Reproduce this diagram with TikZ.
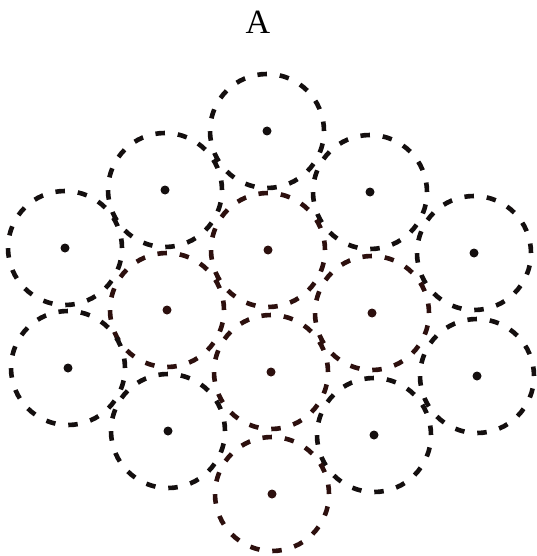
\documentclass[tikz,border=0pt]{standalone}
\usepackage{fontspec}
\setmainfont{Liberation Serif}
\usepackage{tikz}
\usetikzlibrary{positioning}
\definecolor{inkblack}{RGB}{20, 15, 15}
\definecolor{inkbrown}{RGB}{45, 16, 14}

\begin{document}
\begin{tikzpicture}[
        x=1pt, y=-1pt,
        ring/.style={draw=inkblack, circle, line width=4.6pt,
            dash pattern=on 9.5pt off 12.9pt,
            minimum size=114pt, inner sep=0pt},
        dot/.style={fill=inkblack, circle, minimum size=9pt, inner sep=0pt},
        lbl/.style={font=\fontsize{34}{40}\selectfont, inner sep=0pt}
    ]
    \useasboundingbox (0, 0) rectangle (536, 556);
    \node[lbl] (title) at (258, 22) {A};
    % outer ring of circles
    \node[ring] (c1) at (267, 131) {};
    \node[ring] (c2) at (165, 190) {};
    \node[ring] (c3) at (370, 192) {};
    \node[ring] (c4) at (65, 248) {};
    \node[ring, draw=inkbrown] (c5) at (268, 250) {};
    \node[ring] (c6) at (474, 253) {};
    \node[ring, draw=inkbrown] (c7) at (167, 310) {};
    \node[ring, draw=inkbrown] (c8) at (372, 313) {};
    \node[ring] (c9) at (68, 368) {};
    \node[ring, draw=inkbrown] (c10) at (271, 372) {};
    \node[ring] (c11) at (477, 376) {};
    \node[ring] (c12) at (168, 431) {};
    \node[ring] (c13) at (374, 435) {};
    \node[ring, draw=inkbrown] (c14) at (272, 494) {};
    % centre points
    \node[dot] (d1) at (c1) {};
    \node[dot] (d2) at (c2) {};
    \node[dot] (d3) at (c3) {};
    \node[dot] (d4) at (c4) {};
    \node[dot, fill=inkbrown] (d5) at (c5) {};
    \node[dot] (d6) at (c6) {};
    \node[dot, fill=inkbrown] (d7) at (c7) {};
    \node[dot, fill=inkbrown] (d8) at (c8) {};
    \node[dot] (d9) at (c9) {};
    \node[dot, fill=inkbrown] (d10) at (c10) {};
    \node[dot] (d11) at (c11) {};
    \node[dot] (d12) at (c12) {};
    \node[dot] (d13) at (c13) {};
    \node[dot, fill=inkbrown] (d14) at (c14) {};
\end{tikzpicture}
\end{document}
